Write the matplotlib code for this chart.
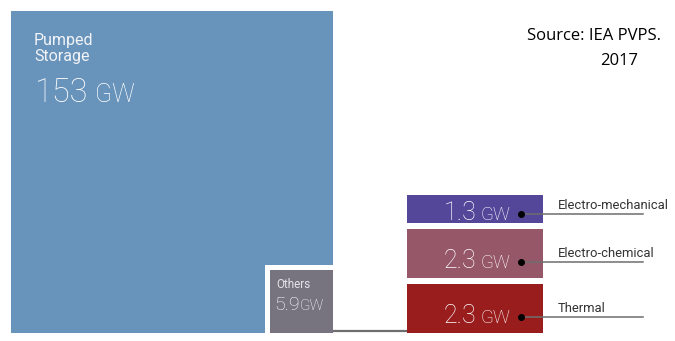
import numpy as np
import matplotlib.pyplot as plt
from matplotlib.patches import Rectangle, Polygon

# Storage capacity by technology (GW)
big_names = ['Pumped', 'Storage', 'Others']
big_values = [153, 5.9]
small_names = ['Electro-mechanical', 'Electro-chemical', 'Thermal']
small_values = [1.3, 2.3, 2.3]
small_labels = ['1.3', '2.3', '2.3']

blue = '#6893ba'
grey_box = '#77737f'
small_colors = ['#54479a', '#965868', '#991d1d']

fig = plt.figure(figsize=(6.75, 3.41), dpi=100)
ax = fig.add_axes([0, 0, 1, 1])
ax.set_xlim(0, 675)
ax.set_ylim(341, 0)
ax.axis('off')

# area scale for the big squares (px^2 per GW)
area = 677.0
x0, y0 = 11, 11
side_big = np.sqrt(big_values[0] * area)
side_oth = np.sqrt(big_values[1] * area)
gap = 5
x1, y1 = x0 + side_big, y0 + side_big
notch = side_oth + gap

# pumped storage: square with the corner cut out for "Others"
ax.add_patch(Polygon([(x0, y0), (x1, y0), (x1, y1 - notch), (x1 - notch, y1 - notch),
                      (x1 - notch, y1), (x0, y1)], closed=True, facecolor=blue, edgecolor='none'))
ax.add_patch(Rectangle((x1 - side_oth, y1 - side_oth), side_oth, side_oth,
                       facecolor=grey_box, edgecolor='none'))

ax.text(x0 + 23, y0 + 34, big_names[0], color='#f2f4f8', fontsize=11.5, family='Roboto',
        va='baseline')
ax.text(x0 + 23, y0 + 50, big_names[1], color='#f2f4f8', fontsize=11.5, family='Roboto',
        va='baseline')
ax.text(x0 + 23, y0 + 91, f'{big_values[0]:g}', color='white', fontsize=23.5, family='Roboto',
        weight='light', va='baseline')
ax.text(x0 + 84, y0 + 91, 'GW', color='white', fontsize=18, family='Roboto',
        weight='light', va='baseline')

ox = x1 - side_oth
ax.text(ox + 7, y1 - side_oth + 18, big_names[2], color='#e4e4e8', fontsize=8.5,
        family='Roboto', va='baseline')
ax.text(ox + 5, y1 - side_oth + 40, f'{big_values[1]:g}', color='white', fontsize=14,
        family='Roboto', weight='light', va='baseline')
ax.text(ox + 30, y1 - side_oth + 40, 'GW', color='white', fontsize=11,
        family='Roboto', weight='light', va='baseline')

# small technologies: fixed width, height proportional to capacity
bx, bw = 407, 136
hscale = 21.3
bgap = 6
bottom = y1
tops = []
for v in small_values[::-1]:
    h = v * hscale
    tops.append((bottom - h, h))
    bottom -= h + bgap
tops = tops[::-1]

for (top, h), name, lab, c in zip(tops, small_names, small_labels, small_colors):
    ax.add_patch(Rectangle((bx, top), bw, h, facecolor=c, edgecolor='none'))
    yd = top + h - 0.33 * h
    ax.plot([bx + 114, 643], [yd, yd], color='#6e6e6e', lw=1.1)
    ax.plot(bx + 114, yd, 'o', color='black', ms=4)
    ax.text(bx + 103, yd + 6, 'GW', color='white', fontsize=13.5, family='Roboto',
            weight='light', ha='right', va='baseline')
    ax.text(bx + 69, yd + 6, lab, color='white', fontsize=18, family='Roboto',
            weight='light', ha='right', va='baseline')
    ax.text(558, yd - 5, name, color='#333333', fontsize=9.4, family='Roboto', va='baseline')

# connector between "Others" and the small boxes
ax.plot([x1, bx], [y1 - 1.5, y1 - 1.5], color='#6e6e6e', lw=1.6, solid_capstyle='butt')

ax.text(527, 40, 'Source: IEA PVPS.', fontsize=12, family='Open Sans', color='black',
        va='baseline')
ax.text(600, 65, '2017', fontsize=12, family='Open Sans', color='black', va='baseline')

fig.savefig('out.png', dpi=100)
